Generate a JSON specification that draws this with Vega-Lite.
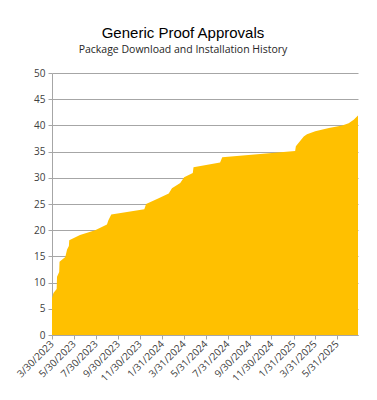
{
  "$schema": "https://vega.github.io/schema/vega-lite/v6.json",
  "autosize": {"type": "none"},
  "width": 306,
  "height": 262,
  "padding": {"left": 52, "top": 73, "right": 19, "bottom": 65},
  "background": "white",
  "title": {
    "text": "Generic Proof Approvals",
    "subtitle": "Package Download and Installation History",
    "anchor": "middle",
    "frame": "group",
    "dx": -22,
    "offset": 13,
    "font": "Liberation Sans",
    "fontSize": 15,
    "fontWeight": "normal",
    "color": "#000000",
    "subtitleFont": "Open Sans",
    "subtitleFontSize": 10.5,
    "subtitleColor": "#262626",
    "subtitlePadding": 4
  },
  "data": {
    "values": [
      {"date": "2023/03/30", "count": 7.0},
      {"date": "2023/04/03", "count": 8.0},
      {"date": "2023/04/12", "count": 8.8},
      {"date": "2023/04/13", "count": 11.1},
      {"date": "2023/04/19", "count": 12.0},
      {"date": "2023/04/20", "count": 14.0},
      {"date": "2023/05/06", "count": 14.9},
      {"date": "2023/05/11", "count": 16.3},
      {"date": "2023/05/16", "count": 17.0},
      {"date": "2023/05/17", "count": 18.1},
      {"date": "2023/06/16", "count": 19.1},
      {"date": "2023/07/28", "count": 20.0},
      {"date": "2023/08/30", "count": 21.1},
      {"date": "2023/09/03", "count": 21.9},
      {"date": "2023/09/11", "count": 23.0},
      {"date": "2023/12/12", "count": 24.0},
      {"date": "2023/12/17", "count": 25.0},
      {"date": "2024/01/21", "count": 26.1},
      {"date": "2024/02/18", "count": 27.0},
      {"date": "2024/02/27", "count": 28.0},
      {"date": "2024/03/21", "count": 29.0},
      {"date": "2024/04/01", "count": 30.1},
      {"date": "2024/04/25", "count": 30.9},
      {"date": "2024/04/27", "count": 32.0},
      {"date": "2024/07/10", "count": 32.9},
      {"date": "2024/07/16", "count": 33.9},
      {"date": "2025/02/04", "count": 35.1},
      {"date": "2025/02/06", "count": 36.0},
      {"date": "2025/02/28", "count": 37.9},
      {"date": "2025/03/09", "count": 38.3},
      {"date": "2025/04/01", "count": 38.9},
      {"date": "2025/05/09", "count": 39.5},
      {"date": "2025/06/15", "count": 40.0},
      {"date": "2025/07/03", "count": 40.4},
      {"date": "2025/07/17", "count": 41.1},
      {"date": "2025/07/29", "count": 41.9}
    ]
  },
  "mark": {"type": "area", "color": "#FFC000", "interpolate": "linear"},
  "encoding": {
    "x": {
      "field": "date",
      "type": "temporal",
      "scale": {
        "domain": [
          {"year": 2023, "month": 3, "date": 30},
          {"year": 2025, "month": 7, "date": 29}
        ],
        "nice": false
      },
      "axis": {
        "title": null,
        "grid": false,
        "values": [
          {"year": 2023, "month": 3, "date": 30},
          {"year": 2023, "month": 5, "date": 30},
          {"year": 2023, "month": 7, "date": 30},
          {"year": 2023, "month": 9, "date": 30},
          {"year": 2023, "month": 11, "date": 30},
          {"year": 2024, "month": 1, "date": 31},
          {"year": 2024, "month": 3, "date": 31},
          {"year": 2024, "month": 5, "date": 31},
          {"year": 2024, "month": 7, "date": 31},
          {"year": 2024, "month": 9, "date": 30},
          {"year": 2024, "month": 11, "date": 30},
          {"year": 2025, "month": 1, "date": 31},
          {"year": 2025, "month": 3, "date": 31},
          {"year": 2025, "month": 5, "date": 31}
        ],
        "format": "%-m/%-d/%Y",
        "labelAngle": -45,
        "labelAlign": "right",
        "labelBaseline": "middle",
        "labelFont": "Open Sans",
        "labelFontSize": 10,
        "labelColor": "#404040",
        "labelPadding": 3,
        "labelOverlap": false,
        "labelFlush": false,
        "domainColor": "#a6a6a6",
        "tickColor": "#a6a6a6",
        "tickSize": 4
      }
    },
    "y": {
      "field": "count",
      "type": "quantitative",
      "scale": {"domain": [0, 50], "nice": false},
      "axis": {
        "title": null,
        "values": [0, 5, 10, 15, 20, 25, 30, 35, 40, 45, 50],
        "grid": true,
        "gridColor": "#a6a6a6",
        "gridWidth": 1,
        "domainColor": "#a6a6a6",
        "tickColor": "#a6a6a6",
        "tickSize": 4,
        "labelFont": "Open Sans",
        "labelFontSize": 10,
        "labelColor": "#404040",
        "labelPadding": 3
      }
    }
  },
  "config": {
    "view": {"stroke": null}
  }
}
